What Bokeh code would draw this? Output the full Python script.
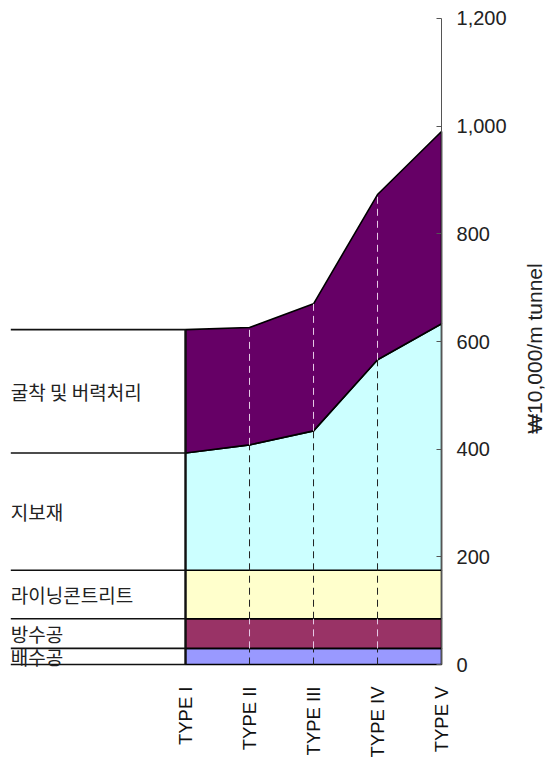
import math
from bokeh.plotting import figure
from bokeh.models import Range1d, FixedTicker, NumeralTickFormatter
from bokeh.core.properties import value
from bokeh.embed import file_html
from bokeh.resources import INLINE

categories = ["TYPE I", "TYPE II", "TYPE III", "TYPE IV", "TYPE V"]
layer_names = ["배수공", "방수공", "라이닝콘트리트", "지보재", "굴착 및 버력처리"]
drain = [30, 30, 30, 30, 30]            # 배수공
waterproof = [55, 55, 55, 55, 55]       # 방수공
lining = [90, 90, 90, 90, 90]           # 라이닝콘트리트
support = [218, 233, 259, 391, 458]     # 지보재
excavation = [229, 218, 236, 307, 357]  # 굴착 및 버력처리
y_ticks = [0, 200, 400, 600, 800, 1000, 1200]
y_title = "₩10,000/m tunnel"

layers = [drain, waterproof, lining, support, excavation]
colors = ["#9999FF", "#993366", "#FFFFCC", "#CCFFFF", "#660066"]
dark = [False, True, False, False, True]

xs = list(range(len(categories)))

p = figure(width=547, height=760, output_backend="svg", toolbar_location=None,
           x_range=Range1d(-2.766, 5.656), y_range=Range1d(-26, 1226),
           y_axis_location="right", min_border_left=8, min_border_top=4,
           min_border_bottom=82, min_border_right=0)
p.outline_line_color = None
p.grid.visible = False
p.background_fill_color = "white"

# stacked areas
bottoms = [0] * len(xs)
bounds = []
for vals, col in zip(layers, colors):
    tops = [b + v for b, v in zip(bottoms, vals)]
    bounds.append((list(bottoms), tops))
    p.patch(xs + xs[::-1], tops + bottoms[::-1], fill_color=col,
            line_color="black", line_width=1.6)
    bottoms = tops

# drop lines
for (bot, top), dk in zip(bounds, dark):
    c = "#E8CCE8" if dk else "#222222"
    p.segment(x0=xs[1:4], y0=bot[1:4], x1=xs[1:4], y1=top[1:4],
              line_color=c, line_width=1, line_dash="7 5")
    p.segment(x0=xs[0:1], y0=bot[0:1], x1=xs[0:1], y1=top[0:1],
              line_color="#111111", line_width=2.2)

# left label table
x_left = -2.73
levels = [bounds[0][0][0]] + [t[0] for _, t in bounds]
p.segment(x0=[x_left] * len(levels), y0=levels, x1=[xs[0]] * len(levels), y1=levels,
          line_color="#111111", line_width=1.6)
mids = [(b[0] + t[0]) / 2 for b, t in bounds]
p.text(x=[x_left] * len(mids), y=mids, text=layer_names,
       text_font=value("Noto Sans CJK KR"), text_font_size="19px",
       text_color="#222222", text_baseline="middle", text_align="left")

# x axis (categories)
xa = p.xaxis[0]
xa.ticker = FixedTicker(ticks=xs)
xa.major_label_overrides = {i: c for i, c in enumerate(categories)}
xa.major_label_orientation = math.pi / 2
xa.axis_line_color = None
xa.major_tick_line_color = None
xa.major_tick_in = 0
xa.major_tick_out = 0
xa.minor_tick_line_color = None
xa.major_label_standoff = 8
xa.major_label_text_font = "Liberation Sans"
xa.major_label_text_font_size = "18.5px"
xa.major_label_text_color = "#111111"

# y axis, drawn at the last category
ya = p.yaxis[0]
ya.fixed_location = xs[-1]
ya.bounds = (y_ticks[0], y_ticks[-1])
ya.ticker = FixedTicker(ticks=y_ticks)
ya.formatter = NumeralTickFormatter(format="0,0")
ya.axis_line_color = "#555555"
ya.major_tick_line_color = "#555555"
ya.major_tick_in = 5
ya.major_tick_out = 0
ya.minor_tick_line_color = None
ya.major_label_standoff = 15
ya.major_label_text_font = "Liberation Sans"
ya.major_label_text_font_size = "20px"
ya.major_label_text_color = "#222222"

# axis title, reading bottom-to-top
p.text(x=[5.45], y=[587], text=[y_title], angle=math.pi / 2,
       text_align="center", text_baseline="middle",
       text_font=value("Liberation Sans"), text_font_size="21px",
       text_color="#222222")

open("out.html", "w").write(file_html(p, INLINE))
